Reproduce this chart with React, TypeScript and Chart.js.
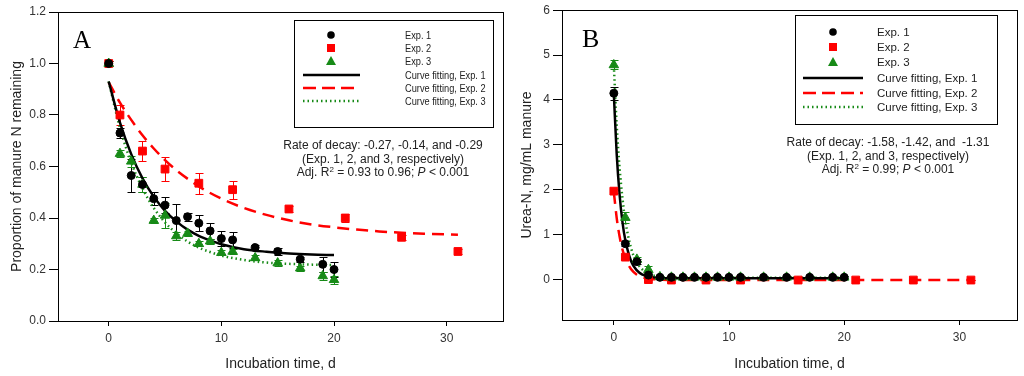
import React, { useEffect, useRef } from "react";
import { Chart, registerables } from "chart.js";

Chart.register(...registerables);

const FONT = "'Liberation Sans', Arial, Helvetica, sans-serif";
const SERIF = "'Liberation Serif', 'Times New Roman', serif";

// ---------- Panel A data ----------
const xTicks = [0, 10, 20, 30];
const yTicksA = [0, 0.2, 0.4, 0.6, 0.8, 1.0, 1.2];
const yTicksB = [0, 1, 2, 3, 4, 5, 6];

const daysA13 = [0, 1, 2, 3, 4, 5, 6, 7, 8, 9, 10, 11, 13, 15, 17, 19, 20];
const exp1A = [1.0, 0.73, 0.565, 0.53, 0.475, 0.45, 0.39, 0.405, 0.38, 0.35, 0.32, 0.315, 0.285, 0.27, 0.24, 0.22, 0.2];
const exp1AErr = [0.01, 0.02, 0.065, 0.03, 0.025, 0.03, 0.065, 0.015, 0.03, 0.03, 0.03, 0.03, 0.01, 0.015, 0.01, 0.03, 0.03];
const exp3A = [1.0, 0.65, 0.62, 0.53, 0.39, 0.41, 0.33, 0.34, 0.3, 0.31, 0.265, 0.27, 0.245, 0.225, 0.205, 0.175, 0.16];
const exp3AErr = [0.01, 0.015, 0.02, 0.03, 0.01, 0.05, 0.015, 0.01, 0.01, 0.01, 0.01, 0.01, 0.01, 0.01, 0.01, 0.015, 0.015];
const daysA2 = [0, 1, 3, 5, 8, 11, 16, 21, 26, 31];
const exp2A = [1.0, 0.8, 0.66, 0.59, 0.535, 0.51, 0.435, 0.4, 0.325, 0.27];
const exp2AErr = [0.01, 0.04, 0.04, 0.045, 0.04, 0.035, 0.01, 0.015, 0.01, 0.01];

const fitDaysA13 = [0, 1, 2, 3, 4, 5, 6, 7, 8, 9, 10, 12, 14, 16, 18, 20];
const fit1A = [0.93, 0.77, 0.648, 0.554, 0.483, 0.428, 0.387, 0.355, 0.331, 0.313, 0.298, 0.279, 0.269, 0.262, 0.258, 0.256];
const fit3A = [0.93, 0.75, 0.615, 0.515, 0.439, 0.383, 0.341, 0.309, 0.285, 0.268, 0.254, 0.237, 0.227, 0.222, 0.219, 0.217];
const fitDaysA2 = [0, 1, 2, 3, 4, 5, 6, 8, 10, 12, 14, 16, 18, 20, 22, 24, 26, 28, 31];
const fit2A = [0.927, 0.848, 0.781, 0.721, 0.67, 0.625, 0.586, 0.523, 0.475, 0.439, 0.412, 0.391, 0.375, 0.364, 0.355, 0.348, 0.343, 0.339, 0.335];

// ---------- Panel B data ----------
const daysB13 = [0, 1, 2, 3, 4, 5, 6, 7, 8, 9, 10, 11, 13, 15, 17, 19, 20];
const exp1B = [4.15, 0.8, 0.4, 0.1, 0.05, 0.05, 0.05, 0.05, 0.05, 0.05, 0.05, 0.05, 0.05, 0.05, 0.05, 0.05, 0.05];
const exp1BErr = [0.15, 0.05, 0.05, 0.03, 0.02, 0.02, 0.02, 0.02, 0.02, 0.02, 0.02, 0.02, 0.02, 0.02, 0.02, 0.02, 0.02];
const exp3B = [4.78, 1.38, 0.45, 0.22, 0.06, 0.05, 0.05, 0.05, 0.05, 0.05, 0.05, 0.05, 0.05, 0.05, 0.05, 0.05, 0.05];
const exp3BErr = [0.1, 0.12, 0.05, 0.08, 0.02, 0.02, 0.02, 0.02, 0.02, 0.02, 0.02, 0.02, 0.02, 0.02, 0.02, 0.02, 0.02];
const daysB2 = [0, 1, 3, 5, 8, 11, 16, 21, 26, 31];
const exp2B = [1.97, 0.5, 0.0, -0.01, -0.01, -0.01, -0.01, -0.01, -0.01, -0.01];
const exp2BErr = [0.05, 0.05, 0.02, 0.01, 0.01, 0.01, 0.01, 0.01, 0.01, 0.01];

const fitDaysB13 = [0, 0.25, 0.5, 0.75, 1, 1.5, 2, 2.5, 3, 4, 6, 10, 20];
const fit1B = [4.13, 2.79, 1.89, 1.28, 0.875, 0.41, 0.204, 0.109, 0.066, 0.037, 0.03, 0.03, 0.03];
const fit3B = [4.76, 3.44, 2.49, 1.81, 1.31, 0.7, 0.38, 0.22, 0.13, 0.065, 0.045, 0.04, 0.04];
const fitDaysB2 = [0, 0.25, 0.5, 0.75, 1, 1.5, 2, 2.5, 3, 4, 6, 10, 20, 31];
const fit2B = [1.95, 1.37, 0.96, 0.67, 0.47, 0.23, 0.11, 0.05, 0.02, 0.0, -0.01, -0.01, -0.01, -0.01];

const BLACK = "#000000";
const RED = "#ff0000";
const GREEN = "#178a17";

const pts = (xs: number[], ys: number[]) => xs.map((x, i) => ({ x, y: ys[i] }));

const errorBarPlugin = {
  id: "errorBars",
  beforeDatasetsDraw(chart: any) {
    const ctx = chart.ctx;
    const xs = chart.scales.x;
    const ys = chart.scales.y;
    chart.data.datasets.forEach((ds: any) => {
      if (!ds.errors) return;
      ctx.save();
      ctx.strokeStyle = ds.borderColor;
      ctx.lineWidth = 1;
      ds.data.forEach((p: any, j: number) => {
        const e = ds.errors[j];
        if (!e) return;
        const x = Math.round(xs.getPixelForValue(p.x)) + 0.5;
        const y1 = Math.round(ys.getPixelForValue(p.y - e)) + 0.5;
        const y2 = Math.round(ys.getPixelForValue(p.y + e)) + 0.5;
        ctx.beginPath();
        ctx.moveTo(x, y1);
        ctx.lineTo(x, y2);
        ctx.moveTo(x - 4, y1);
        ctx.lineTo(x + 4, y1);
        ctx.moveTo(x - 4, y2);
        ctx.lineTo(x + 4, y2);
        ctx.stroke();
      });
      ctx.restore();
    });
  },
};

const framePlugin = {
  id: "frame",
  afterDraw(chart: any) {
    const { left, top, right, bottom } = chart.chartArea;
    const ctx = chart.ctx;
    ctx.save();
    ctx.strokeStyle = "#000";
    ctx.lineWidth = 1;
    ctx.strokeRect(Math.round(left) + 0.5, Math.round(top) + 0.5, Math.round(right - left), Math.round(bottom - top));
    ctx.restore();
  },
};

function pointSet(data: any[], errs: number[], color: string, style: string, radius: number) {
  return {
    data,
    errors: errs,
    showLine: false,
    pointStyle: style,
    pointRadius: radius,
    pointBackgroundColor: color,
    pointBorderColor: color,
    borderColor: color,
    backgroundColor: color,
    pointBorderWidth: 1,
  };
}

function lineSet(data: any[], color: string, dash: number[], width: number) {
  return {
    data,
    showLine: true,
    pointRadius: 0,
    borderColor: color,
    backgroundColor: color,
    borderWidth: width,
    borderDash: dash,
    cubicInterpolationMode: "monotone",
    fill: false,
  };
}

function makeConfig(o: any) {
  return {
    type: "scatter",
    data: { datasets: o.datasets },
    plugins: [errorBarPlugin, framePlugin],
    options: {
      responsive: false,
      animation: false,
      events: [],
      layout: { padding: { top: o.padTop, right: o.padRight, left: 0, bottom: 0 } },
      plugins: { legend: { display: false }, tooltip: { enabled: false } },
      scales: {
        x: {
          type: "linear",
          min: -4.5,
          max: 35,
          afterBuildTicks: (s: any) => {
            s.ticks = xTicks.map((v) => ({ value: v }));
          },
          afterFit: (s: any) => {
            s.height = o.xHeight;
          },
          ticks: { color: "#333", font: { family: FONT, size: 12 }, padding: 5, maxRotation: 0 },
          grid: { drawOnChartArea: false, drawTicks: true, tickLength: 5, color: "#000", tickColor: "#000" },
          border: { display: true, color: "#000", width: 1 },
          title: {
            display: true,
            text: "Incubation time, d",
            color: "#222",
            font: { family: FONT, size: 14 },
            padding: { top: 0, bottom: 3 },
          },
        },
        y: {
          type: "linear",
          min: o.yMin,
          max: o.yMax,
          afterBuildTicks: (s: any) => {
            s.ticks = o.yTicks.map((v: number) => ({ value: v }));
          },
          afterFit: (s: any) => {
            s.width = o.yWidth;
          },
          ticks: {
            color: "#333",
            font: { family: FONT, size: 12 },
            padding: 3,
            callback: o.yFmt,
          },
          grid: { drawOnChartArea: false, drawTicks: true, tickLength: 9, color: "#000", tickColor: "#000" },
          border: { display: true, color: "#000", width: 1 },
          title: {
            display: true,
            text: o.yTitle,
            color: "#222",
            font: { family: FONT, size: 14 },
            padding: { top: o.yTitlePad, bottom: 0 },
          },
        },
      },
    },
  };
}

function ChartPanel({ left, width, build }: any) {
  const ref = useRef<HTMLCanvasElement | null>(null);
  useEffect(() => {
    const chart = new Chart(ref.current as any, build() as any);
    return () => chart.destroy();
  }, []);
  return (
    <canvas
      ref={ref}
      width={width}
      height={376}
      style={{ position: "absolute", left, top: 0, width, height: 376, display: "block" }}
    />
  );
}

const buildA = () =>
  makeConfig({
    padTop: 12,
    padRight: 7,
    xHeight: 55,
    yWidth: 58,
    yTitlePad: 9,
    yMin: 0,
    yMax: 1.2,
    yTicks: yTicksA,
    yFmt: (v: any) => Number(v).toFixed(1),
    yTitle: "Proportion of manure N remaining",
    datasets: [
      pointSet(pts(daysA13, exp1A), exp1AErr, BLACK, "circle", 4),
      pointSet(pts(daysA13, exp3A), exp3AErr, GREEN, "triangle", 5.5),
      pointSet(pts(daysA2, exp2A), exp2AErr, RED, "rect", 5.5),
      lineSet(pts(fitDaysA13, fit1A), BLACK, [], 2.5),
      lineSet(pts(fitDaysA2, fit2A), RED, [12, 7], 2.5),
      lineSet(pts(fitDaysA13, fit3A), GREEN, [1.5, 3], 2.5),
    ],
  });

const buildB = () =>
  makeConfig({
    padTop: 10,
    padRight: 7,
    xHeight: 56,
    yWidth: 52,
    yTitlePad: 9,
    yMin: -0.9,
    yMax: 6,
    yTicks: yTicksB,
    yFmt: (v: any) => String(v),
    yTitle: "Urea-N, mg/mL manure",
    datasets: [
      pointSet(pts(daysB13, exp1B), exp1BErr, BLACK, "circle", 4),
      pointSet(pts(daysB13, exp3B), exp3BErr, GREEN, "triangle", 5.5),
      pointSet(pts(daysB2, exp2B), exp2BErr, RED, "rect", 5.5),
      lineSet(pts(fitDaysB13, fit1B), BLACK, [], 2.5),
      lineSet(pts(fitDaysB2, fit2B), RED, [12, 7], 2.5),
      lineSet(pts(fitDaysB13, fit3B), GREEN, [1.5, 3], 2.5),
    ],
  });

const legendLabels = ["Exp. 1", "Exp. 2", "Exp. 3", "Curve fitting, Exp. 1", "Curve fitting, Exp. 2", "Curve fitting, Exp. 3"];

function Legend({ box, rows, cx, x1, x2, tx, fs, sx }: any) {
  const [bx, by, bw, bh] = box;
  const tri = (y: number) => `${cx},${y - 5} ${cx - 5},${y + 4} ${cx + 5},${y + 4}`;
  return (
    <>
      <svg
        width={1024}
        height={376}
        style={{ position: "absolute", left: 0, top: 0, pointerEvents: "none" }}
      >
        <rect x={bx + 0.5} y={by + 0.5} width={bw} height={bh} fill="#fff" stroke="#000" strokeWidth={1} />
        <circle cx={cx} cy={rows[0]} r={3.8} fill={BLACK} />
        <rect x={cx - 4} y={rows[1] - 4} width={8} height={8} fill={RED} />
        <polygon points={tri(rows[2])} fill={GREEN} />
        <line x1={x1} x2={x2} y1={rows[3]} y2={rows[3]} stroke={BLACK} strokeWidth={2.5} />
        <line x1={x1} x2={x2} y1={rows[4]} y2={rows[4]} stroke={RED} strokeWidth={2.5} strokeDasharray="13 6" />
        <line x1={x1} x2={x2} y1={rows[5]} y2={rows[5]} stroke={GREEN} strokeWidth={2.5} strokeDasharray="1.5 3" />
      </svg>
      {legendLabels.map((t, i) => (
        <div
          key={t}
          style={{
            position: "absolute",
            left: tx,
            top: rows[i] - 8,
            height: 16,
            lineHeight: "16px",
            fontFamily: FONT,
            fontSize: fs,
            color: "#222",
            whiteSpace: "nowrap",
            transform: `scaleX(${sx})`,
            transformOrigin: "left center",
          }}
        >
          {t}
        </div>
      ))}
    </>
  );
}

function Note({ cx, top, lines }: any) {
  return (
    <div
      style={{
        position: "absolute",
        left: cx - 150,
        width: 300,
        top,
        textAlign: "center",
        fontFamily: FONT,
        fontSize: 12,
        lineHeight: "13.5px",
        color: "#222",
        whiteSpace: "pre",
      }}
    >
      {lines.map((l: any, i: number) => (
        <div key={i}>{l}</div>
      ))}
    </div>
  );
}

export default function App() {
  return (
    <div style={{ position: "absolute", left: 0, top: 0, width: 1024, height: 376, background: "#fff", overflow: "hidden" }}>
      <ChartPanel left={0} width={510} build={buildA} />
      <ChartPanel left={510} width={514} build={buildB} />
      <div style={{ position: "absolute", left: 73, top: 27, fontFamily: SERIF, fontSize: 25, lineHeight: 1 }}>A</div>
      <div style={{ position: "absolute", left: 582, top: 26, fontFamily: SERIF, fontSize: 26, lineHeight: 1 }}>B</div>
      <Legend box={[294, 20, 199, 107]} rows={[35, 48, 61, 75, 88, 101]} cx={331} x1={303} x2={360} tx={405} fs={11} sx={0.84} />
      <Legend box={[795, 15, 202, 109]} rows={[32, 47, 62, 78, 93, 107]} cx={833} x1={803} x2={863} tx={877} fs={11.5} sx={1} />
      <Note
        cx={383}
        top={139}
        lines={[
          "Rate of decay: -0.27, -0.14, and -0.29",
          "(Exp. 1, 2, and 3, respectively)",
          <span key="r">
            Adj. R<sup style={{ fontSize: 8, verticalAlign: "4px", lineHeight: 0 }}>2</sup> = 0.93 to 0.96; <i>P</i> &lt; 0.001
          </span>,
        ]}
      />
      <Note
        cx={888}
        top={136}
        lines={[
          "Rate of decay: -1.58, -1.42, and  -1.31",
          "(Exp. 1, 2, and 3, respectively)",
          <span key="r">
            Adj. R<sup style={{ fontSize: 8, verticalAlign: "4px", lineHeight: 0 }}>2</sup> = 0.99; <i>P</i> &lt; 0.001
          </span>,
        ]}
      />
    </div>
  );
}
